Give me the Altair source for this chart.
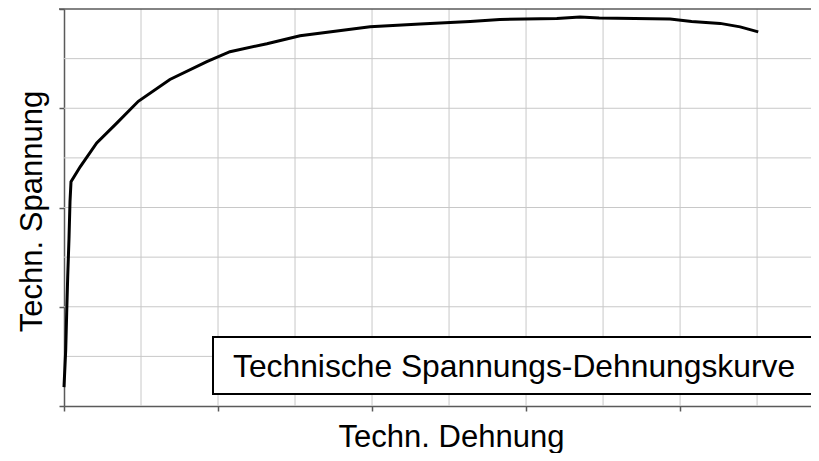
import altair as alt
import pandas as pd

# curve data
strain = [0.0, 0.00044, 0.0007, 0.00096, 0.0013, 0.00156, 0.00182, 0.0042, 0.0085,
          0.0137, 0.0193, 0.0275, 0.0371, 0.0431, 0.0527, 0.0613, 0.0795, 0.0925,
          0.1055, 0.1132, 0.128, 0.134, 0.139, 0.1574, 0.163, 0.1704, 0.1756, 0.1803]
stress = [19, 56, 94, 130, 169, 206, 226, 241, 265,
          285, 307, 329, 347, 357, 365, 373, 382, 385,
          387.5, 389.5, 390.5, 392, 391, 390, 387.5, 385.5, 382, 377]

x_grid = [0.02, 0.04, 0.06, 0.08, 0.10, 0.12, 0.14, 0.16, 0.18]
y_grid = [50, 100, 150, 200, 250, 300, 350]
x_ticks = [0, 0.04, 0.08, 0.12, 0.16]
y_ticks = [0, 100, 200, 300, 400]

x_title = "Techn. Dehnung"
y_title = "Techn. Spannung"
box_text = "Technische Spannungs-Dehnungskurve"

curve = pd.DataFrame({"strain": strain, "stress": stress})
xg = pd.DataFrame({"v": x_grid})
yg = pd.DataFrame({"v": y_grid})
one = pd.DataFrame({"t": [box_text]})

FONT = "Liberation Sans"
AX = "#5a5a5a"
W, H = 747, 397
BX0, BX1, BY0, BY1 = 149, W + 40, 328, 385

xscale = alt.Scale(domain=[0, 0.194], nice=False, zero=False)
yscale = alt.Scale(domain=[0, 400], nice=False, zero=False)

xaxis = alt.Axis(values=x_ticks, labels=False, grid=False, tickSize=5, tickColor=AX,
                 tickWidth=1.5, domainColor=AX, domainWidth=1.5,
                 title=x_title, titleFont=FONT, titleFontSize=31, titleFontWeight="normal",
                 titleColor="black", titleX=387, titleY=40, titleAlign="center",
                 titleBaseline="alphabetic")
yaxis = alt.Axis(values=y_ticks, labels=False, grid=False, tickSize=5, tickColor=AX,
                 tickWidth=1.5, domainColor=AX, domainWidth=1.5,
                 title=y_title, titleFont=FONT, titleFontSize=31, titleFontWeight="normal",
                 titleColor="black", titleX=-23, titleY=202, titleAngle=270,
                 titleAlign="center", titleBaseline="alphabetic")

vgrid = alt.Chart(xg).mark_rule(color="#c8c8c8", strokeWidth=1).encode(
    x=alt.X("v:Q", scale=xscale, axis=xaxis))
hgrid = alt.Chart(yg).mark_rule(color="#c8c8c8", strokeWidth=1).encode(
    y=alt.Y("v:Q", scale=yscale, axis=yaxis))

top_line = alt.Chart(one).mark_rule(color=AX, strokeWidth=1.5).encode(
    x=alt.value(-5), x2=alt.value(W + 40), y=alt.value(0))

line = alt.Chart(curve).mark_line(color="black", strokeWidth=3).encode(
    x=alt.X("strain:Q", scale=xscale),
    y=alt.Y("stress:Q", scale=yscale),
    order=alt.Order("strain:Q"))

box_fill = alt.Chart(one).mark_rect(fill="white", strokeWidth=0).encode(
    x=alt.value(BX0), x2=alt.value(BX1), y=alt.value(BY0), y2=alt.value(BY1))
box_top = alt.Chart(one).mark_rule(color="black", strokeWidth=2).encode(
    x=alt.value(BX0 - 1), x2=alt.value(BX1), y=alt.value(BY0))
box_bot = alt.Chart(one).mark_rule(color="black", strokeWidth=2).encode(
    x=alt.value(BX0 - 1), x2=alt.value(BX1), y=alt.value(BY1))
box_left = alt.Chart(one).mark_rule(color="black", strokeWidth=2).encode(
    x=alt.value(BX0), y=alt.value(BY0), y2=alt.value(BY1))

label = alt.Chart(one).mark_text(
    font=FONT, fontSize=31.8, color="black", align="left", baseline="alphabetic").encode(
    x=alt.value(169), y=alt.value(367.7), text="t:N")

chart = alt.layer(vgrid, hgrid, top_line, line, box_fill, box_top, box_bot, box_left,
                  label).properties(
    width=W, height=H,
    autosize=alt.AutoSizeParams(type="none"),
    padding={"left": 56, "top": 1, "right": 0, "bottom": 47},
).configure_view(strokeWidth=0)

chart.save("out.html", embed_options={"renderer": "svg", "actions": False})
